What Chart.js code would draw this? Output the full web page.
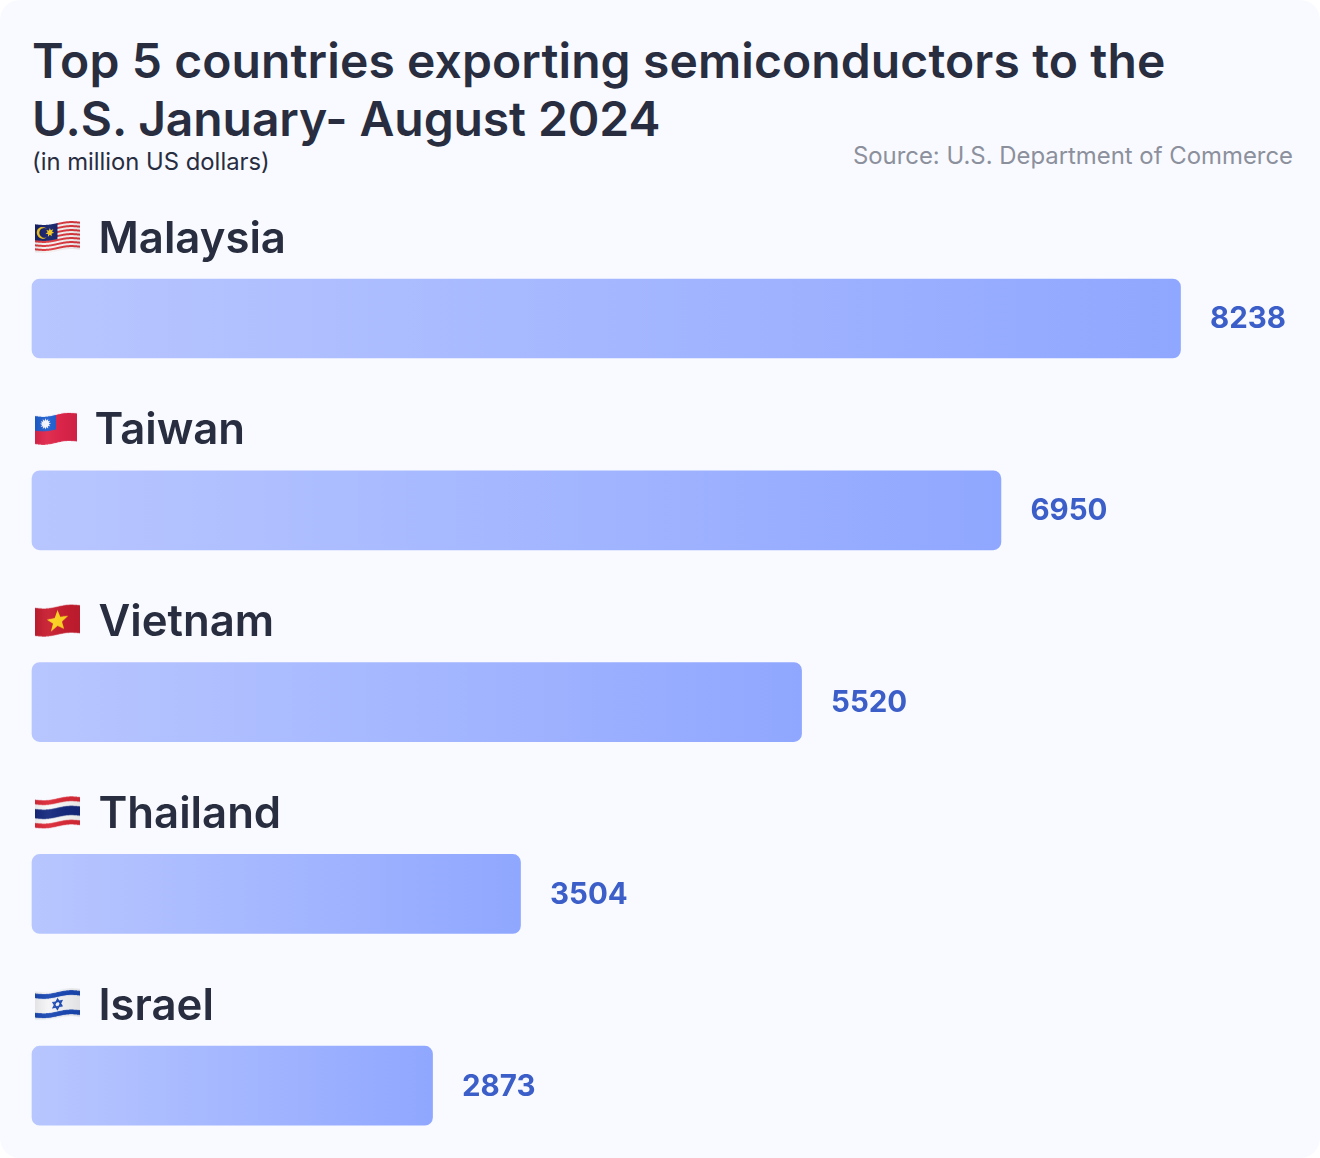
<!DOCTYPE html>
<html>
<head>
<meta charset="utf-8">
<script src="https://cdn.jsdelivr.net/npm/chart.js@4"></script>
<style>
html, body { margin: 0; padding: 0; background: #fff; width: 1320px; height: 1158px; overflow: hidden; }
#panel { position: absolute; left: 0; top: 0; width: 1320px; height: 1158px; background: #f8faff; border-radius: 20px; font-family: Inter, sans-serif; }
#title { position: absolute; left: 32px; top: 32px; width: 1250px; margin: 0; font-size: 48px; line-height: 58px; font-weight: 600; color: #282d3f; }
#title span { display: block; white-space: nowrap; }
#title .l1 { letter-spacing: 0.11px; }
#title .l2 { letter-spacing: -0.1px; }
#sub { position: absolute; left: 32px; top: 147px; font-size: 23.8px; line-height: 29px; color: #282d3f; }
#source { position: absolute; right: 27px; top: 141px; font-size: 23.9px; line-height: 30px; color: #8c909c; }
canvas { position: absolute; left: 0; top: 0; }
</style>
</head>
<body>
<div id="panel">
  <h1 id="title"><span class="l1">Top 5 countries exporting semiconductors to the</span><span class="l2">U.S. January- August 2024</span></h1>
  <div id="sub">(in million US dollars)</div>
  <div id="source">Source: U.S. Department of Commerce</div>
  <canvas id="exportsChart" width="1320" height="1158"></canvas>
</div>
<script>
const countries = ['Malaysia', 'Taiwan', 'Vietnam', 'Thailand', 'Israel'];
const exportValues = [8238, 6950, 5520, 3504, 2873];

const BAR_HEIGHT = 79;

// little waving flags, painted flat then warped column by column
function paintFlag(g, name, w, h) {
    function star(cx, cy, r, color, points, inner) {
        g.fillStyle = color;
        g.beginPath();
        for (let i = 0; i < points * 2; i++) {
            const rad = i % 2 ? r * inner : r;
            const a = -Math.PI / 2 + i * Math.PI / points;
            g.lineTo(cx + rad * Math.cos(a), cy + rad * Math.sin(a));
        }
        g.fill();
    }
    if (name === 'Malaysia') {
        g.fillStyle = '#f7f3f3';
        g.fillRect(0, 0, w, h);
        g.fillStyle = '#dc3a40';
        for (let i = 0; i < 7; i++) g.fillRect(0, i * 2 * h / 14, w, h / 14);
        g.fillStyle = '#16226a';
        g.fillRect(0, 0, w * 0.5, h * 0.57);
        g.fillStyle = '#f7c81e';
        g.beginPath();
        g.arc(w * 0.17, h * 0.285, h * 0.21, 0, Math.PI * 2);
        g.fill();
        g.fillStyle = '#16226a';
        g.beginPath();
        g.arc(w * 0.205, h * 0.285, h * 0.175, 0, Math.PI * 2);
        g.fill();
        star(w * 0.33, h * 0.285, h * 0.16, '#f7c81e', 7, 0.5);
    } else if (name === 'Taiwan') {
        g.fillStyle = '#e0254a';
        g.fillRect(0, 0, w, h);
        g.fillStyle = '#1f5fd0';
        g.fillRect(0, 0, w * 0.5, h * 0.52);
        star(w * 0.25, h * 0.26, h * 0.2, '#f6f8ff', 12, 0.6);
    } else if (name === 'Vietnam') {
        g.fillStyle = '#c81e30';
        g.fillRect(0, 0, w, h);
        star(w * 0.5, h * 0.52, h * 0.4, '#ffd520', 5, 0.42);
    } else if (name === 'Thailand') {
        const bands = [['#dc2a38', 1], ['#fafafa', 1], ['#16297e', 2], ['#fafafa', 1], ['#dc2a38', 1]];
        let y = 0;
        bands.forEach(b => {
            g.fillStyle = b[0];
            g.fillRect(0, y, w, b[1] * h / 6 + 1);
            y += b[1] * h / 6;
        });
    } else {
        g.fillStyle = '#f5f5f7';
        g.fillRect(0, 0, w, h);
        g.fillStyle = '#1a48b4';
        g.fillRect(0, h * 0.07, w, h * 0.17);
        g.fillRect(0, h * 0.76, w, h * 0.17);
        g.strokeStyle = '#1a48b4';
        g.lineWidth = h * 0.05;
        [-1, 1].forEach(dir => {
            g.beginPath();
            for (let i = 0; i < 3; i++) {
                const a = dir * Math.PI / 2 + i * 2 * Math.PI / 3;
                g.lineTo(w * 0.5 + h * 0.18 * Math.cos(a), h * 0.5 + h * 0.18 * Math.sin(a));
            }
            g.closePath();
            g.stroke();
        });
    }
}

function drawFlag(ctx, name, x, cy, w, h) {
    const scale = 4;
    const margin = 4;
    const flat = document.createElement('canvas');
    flat.width = w * scale;
    flat.height = h * scale;
    const g = flat.getContext('2d');
    g.scale(scale, scale);
    paintFlag(g, name, w, h);
    // fold shading across the cloth
    const shade = g.createLinearGradient(0, 0, w, 0);
    shade.addColorStop(0, 'rgba(0,0,0,0.07)');
    shade.addColorStop(0.3, 'rgba(255,255,255,0.05)');
    shade.addColorStop(0.7, 'rgba(0,0,0,0.04)');
    shade.addColorStop(1, 'rgba(0,0,0,0.08)');
    g.fillStyle = shade;
    g.fillRect(0, 0, w, h);

    const warped = document.createElement('canvas');
    warped.width = flat.width;
    warped.height = (h + margin * 2) * scale;
    const wg = warped.getContext('2d');
    for (let col = 0; col < flat.width; col++) {
        const t = col / flat.width;
        const off = 1.3 - 2.6 * t + 1.2 * Math.sin(2 * Math.PI * t);
        wg.drawImage(flat, col, 0, 1, flat.height, col, Math.round((margin + off) * scale), 1, flat.height);
    }
    ctx.imageSmoothingEnabled = true;
    ctx.imageSmoothingQuality = 'high';
    ctx.drawImage(warped, x, cy - h / 2 - margin, w, h + margin * 2);
}

const rowLabels = {
    id: 'rowLabels',
    afterDatasetsDraw(chart) {
        const ctx = chart.ctx;
        const bars = chart.getDatasetMeta(0).data;
        ctx.save();
        bars.forEach((bar, i) => {
            const top = bar.y - BAR_HEIGHT / 2;
            const flagW = countries[i] === 'Taiwan' ? 42 : 45;
            drawFlag(ctx, countries[i], 35, top - 42, flagW, 28);
            ctx.fillStyle = '#282d3f';
            ctx.font = '600 43.7px Inter';
            ctx.textAlign = 'left';
            ctx.textBaseline = 'alphabetic';
            ctx.fillText(countries[i], 35 + flagW + (countries[i] === 'Taiwan' ? 17.5 : 18.5), top - 26.5);
            ctx.fillStyle = '#3c5ec8';
            ctx.font = '700 29.5px Inter';
            ctx.textBaseline = 'middle';
            ctx.fillText(String(exportValues[i]), bar.x + 29.5, bar.y + 1);
        });
        ctx.restore();
    }
};

new Chart(document.getElementById('exportsChart'), {
    type: 'bar',
    data: {
        labels: countries,
        datasets: [{
            data: exportValues,
            clip: false,
            barThickness: BAR_HEIGHT,
            borderRadius: 8,
            borderSkipped: false,
            backgroundColor(context) {
                const chart = context.chart;
                if (!chart.chartArea) return '#a4b6ff';
                const x = chart.scales.x;
                const left = x.getPixelForValue(0);
                const right = x.getPixelForValue(exportValues[context.dataIndex]);
                const grad = chart.ctx.createLinearGradient(left, 0, right, 0);
                grad.addColorStop(0, '#b8c6ff');
                grad.addColorStop(1, '#90a7ff');
                return grad;
            }
        }]
    },
    options: {
        indexAxis: 'y',
        responsive: false,
        animation: false,
        layout: { padding: { left: 32, right: 139.5, top: 318.5, bottom: 72.3 } },
        scales: {
            x: { display: false, min: 0, max: 8238 },
            y: { display: false, offset: false }
        },
        plugins: {
            legend: { display: false },
            tooltip: { enabled: false }
        }
    },
    plugins: [rowLabels]
});
</script>
</body>
</html>
